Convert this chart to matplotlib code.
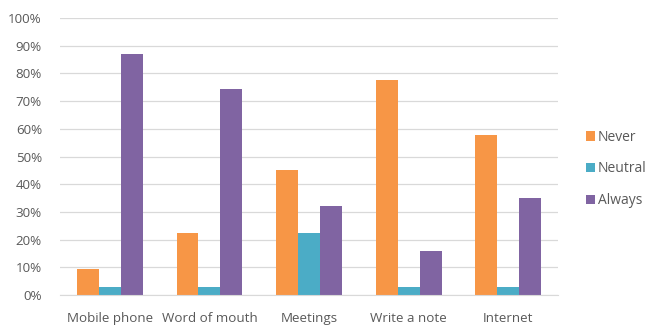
import matplotlib.pyplot as plt
import numpy as np
from matplotlib.ticker import PercentFormatter

categories = ['Mobile phone', 'Word of mouth', 'Meetings', 'Write a note', 'Internet']
never = [9.5, 22.3, 45, 77.6, 57.8]
neutral = [3, 3, 22.3, 3, 3]
always = [87, 74.3, 32, 15.9, 35.1]

series = [('Never', never, '#F79646'),
          ('Neutral', neutral, '#4BACC6'),
          ('Always', always, '#8064A2')]

plt.rcParams['font.family'] = ['Open Sans', 'DejaVu Sans']
text_col = '#595959'

fig = plt.figure(figsize=(6.49, 3.25), dpi=100)
ax = fig.add_axes([0.0924, 0.0923, 0.7676, 0.8523])

x = np.arange(len(categories))
w = 0.22
for i, (name, vals, col) in enumerate(series):
    ax.bar(x + (i - 1) * w, vals, w, color=col, label=name, zorder=2)

ax.set_xlim(-0.5, len(categories) - 0.5)
ax.set_ylim(0, 100)
ax.set_yticks(np.arange(0, 101, 10))
ax.yaxis.set_major_formatter(PercentFormatter(decimals=0))
ax.set_xticks(x)
ax.set_xticklabels(categories)
ax.grid(axis='y', color='#D9D9D9', linewidth=0.9, zorder=0)
for s in ['top', 'right', 'left']:
    ax.spines[s].set_visible(False)
ax.spines['bottom'].set_color('#D9D9D9')
ax.tick_params(length=0, colors=text_col, labelsize=9.6)
ax.tick_params(axis='x', pad=12)
ax.tick_params(axis='y', pad=13)

leg = fig.legend(loc='center left', bbox_to_anchor=(0.883, 0.48), frameon=False,
                 handlelength=0.65, handleheight=0.65, handletextpad=0.25,
                 labelspacing=1.2, fontsize=10)
for t in leg.get_texts():
    t.set_color(text_col)

fig.savefig('out.png', dpi=100)
